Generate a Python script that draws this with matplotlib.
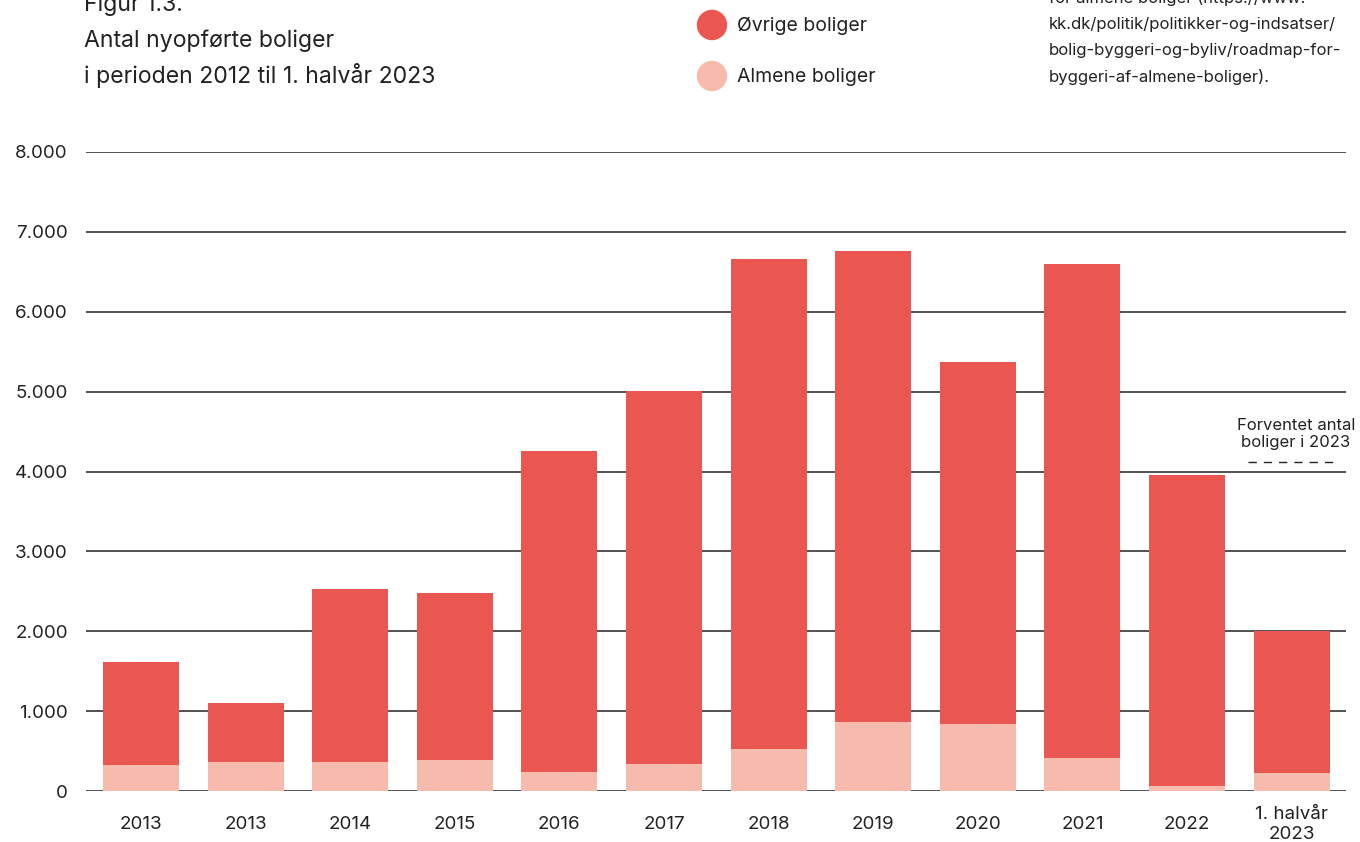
import matplotlib
matplotlib.use("Agg")
import matplotlib.pyplot as plt
from matplotlib.patches import Ellipse
from matplotlib.lines import Line2D

plt.rcParams['font.family'] = ['Inter', 'DejaVu Sans']

categories = ["2013", "2013", "2014", "2015", "2016", "2017", "2018", "2019",
              "2020", "2021", "2022", "1. halvår\n2023"]
almene = [325, 363, 366, 391, 241, 341, 529, 866, 841, 416, 66, 225]
total = [1615, 1100, 2528, 2478, 4255, 5006, 6658, 6758, 5369, 6596, 3955, 2003]
ovrige = [t - a for t, a in zip(total, almene)]
yticks = [0, 1000, 2000, 3000, 4000, 5000, 6000, 7000, 8000]
ytick_labels = ["0", "1.000", "2.000", "3.000", "4.000", "5.000", "6.000", "7.000", "8.000"]

RED = "#EA5750"
PINK = "#F7BBAD"
TXT = "#222222"

W, H = 1360, 842
fig = plt.figure(figsize=(W / 100, H / 100), dpi=100)

def fx(px):
    return px / W

def fy(py):
    return 1 - py / H

ax = fig.add_axes([fx(86), fy(791), fx(1346) - fx(86), fy(152) - fy(791)])
x = list(range(len(categories)))
ax.bar(x, almene, width=0.727, color=PINK, zorder=3)
ax.bar(x, ovrige, bottom=almene, width=0.727, color=RED, zorder=3)
ax.set_xlim(-0.525, 11.52)
ax.set_ylim(0, 8000)
ax.set_yticks(yticks)
ax.set_yticklabels(ytick_labels)
ax.set_xticks(x)
ax.set_xticklabels(categories, linespacing=1.25)
for y in yticks:
    ax.axhline(y, color=TXT, lw=1.1, zorder=1)
for s in ax.spines.values():
    s.set_visible(False)
ax.tick_params(axis='both', length=0, labelsize=13.5, colors=TXT)
ax.tick_params(axis='y', pad=13)
ax.tick_params(axis='x', pad=24)
for lab in ax.get_xticklabels():
    lab.set_verticalalignment('center')

# Title
fig.text(fx(84), fy(5), "Figur 1.3.", fontsize=16.6, color=TXT, va='center', ha='left')
fig.text(fx(84), fy(41), "Antal nyopførte boliger", fontsize=16.6, color=TXT, va='center', ha='left')
fig.text(fx(84), fy(75), "i perioden 2012 til 1. halvår 2023", fontsize=16.6, color=TXT, va='center', ha='left')

# Legend
fig.patches.append(Ellipse((fx(712), fy(25)), width=fx(29), height=29 / H,
                           transform=fig.transFigure, color=RED))
fig.patches.append(Ellipse((fx(712), fy(76)), width=fx(29), height=29 / H,
                           transform=fig.transFigure, color=PINK))
fig.text(fx(737), fy(26), "Øvrige boliger", fontsize=14, color=TXT, va='center', ha='left')
fig.text(fx(737), fy(77), "Almene boliger", fontsize=14, color=TXT, va='center', ha='left')

# Source text (top right)
src = ["for almene boliger (https://www.",
       "kk.dk/politik/politikker-og-indsatser/",
       "bolig-byggeri-og-byliv/roadmap-for-",
       "byggeri-af-almene-boliger)."]
for i, line in enumerate(src):
    fig.text(fx(1049), fy(-2 + 26.3 * i), line, fontsize=12, color=TXT, va='center', ha='left')

# Annotation
fig.text(fx(1296), fy(425), "Forventet antal", fontsize=12, color=TXT, va='center', ha='center')
fig.text(fx(1296), fy(443), "boliger i 2023", fontsize=12, color=TXT, va='center', ha='center')
fig.lines.append(Line2D([fx(1248), fx(1334)], [fy(462), fy(462)], transform=fig.transFigure,
                        color=TXT, lw=1, linestyle=(0, (6, 5))))

fig.savefig("out.png", dpi=100)
